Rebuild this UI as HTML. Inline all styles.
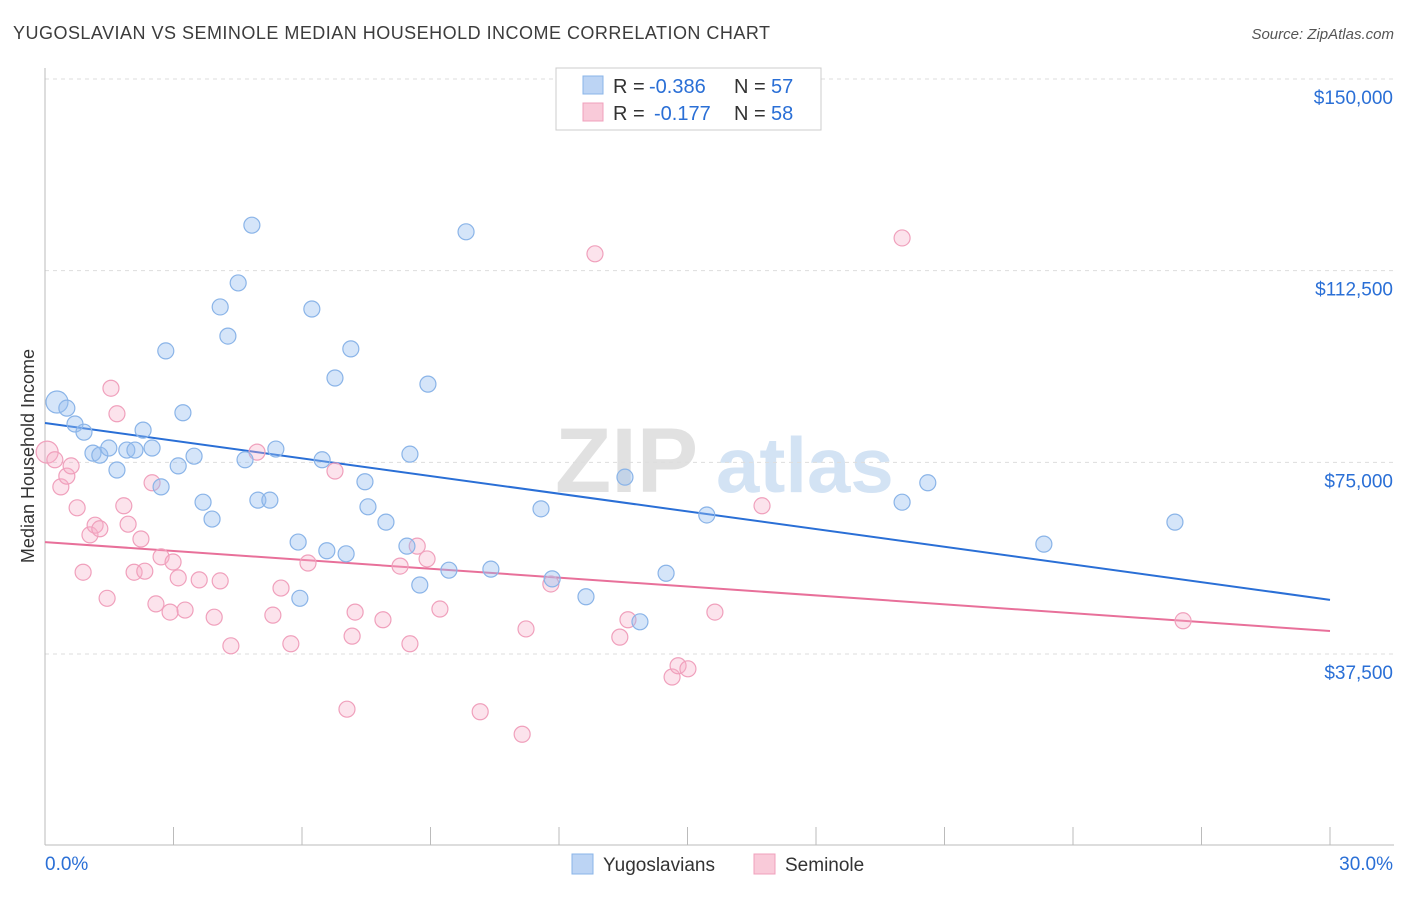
<!DOCTYPE html>
<html><head><meta charset="utf-8">
<style>
body{margin:0;background:#fff;font-family:"Liberation Sans",sans-serif;}
svg text{font-family:"Liberation Sans",sans-serif;}
</style></head>
<body>
<svg id="chart" width="1406" height="892" xmlns="http://www.w3.org/2000/svg">
<text x="13" y="39" font-size="18" fill="#3c3c3c" textLength="757">YUGOSLAVIAN VS SEMINOLE MEDIAN HOUSEHOLD INCOME CORRELATION CHART</text>
<text x="1394" y="39" font-size="15" fill="#555" font-style="italic" text-anchor="end">Source: ZipAtlas.com</text>
<text transform="translate(34,456) rotate(-90)" font-size="18" fill="#333" text-anchor="middle">Median Household Income</text>
<g opacity="0.9">
<text x="555" y="492" font-size="92" fill="#dedede" font-family="Liberation Serif" font-weight="bold">ZIP</text>
<text x="716" y="492" font-size="78" fill="#cfe0f3" font-weight="bold">atlas</text>
</g>
<g id="grid"></g><g id="axes"></g><g id="trends"></g><g id="points"></g>
<g>
<rect x="556" y="68" width="265" height="62" fill="#fff" stroke="#ccc"/>
<rect x="583" y="76" width="20" height="18" fill="#bcd4f4" stroke="#8ab4e8"/>
<text x="613" y="93" font-size="20" fill="#333">R =</text>
<text x="649" y="93" font-size="20" fill="#2a6fd6">-0.386</text>
<text x="734" y="93" font-size="20" fill="#333">N =</text>
<text x="771" y="93" font-size="20" fill="#2a6fd6">57</text>
<rect x="583" y="103" width="20" height="18" fill="#f9cad9" stroke="#f0a0bc"/>
<text x="613" y="120" font-size="20" fill="#333">R =</text>
<text x="654" y="120" font-size="20" fill="#2a6fd6">-0.177</text>
<text x="734" y="120" font-size="20" fill="#333">N =</text>
<text x="771" y="120" font-size="20" fill="#2a6fd6">58</text>
</g>
<g>
<rect x="572" y="854" width="21" height="20" fill="#bcd4f4" stroke="#8ab4e8"/>
<text x="603" y="871" font-size="19" fill="#333">Yugoslavians</text>
<rect x="754" y="854" width="21" height="20" fill="#f9cad9" stroke="#f0a0bc"/>
<text x="785" y="871" font-size="19" fill="#333">Seminole</text>
</g>
</svg>
<script>
const yTicks=[37500,75000,112500,150000];
const yTickLabels=["$37,500","$75,000","$112,500","$150,000"];
const xTickLabels=["0.0%","30.0%"];
const blueX=[0.28,0.51,0.70,0.91,1.12,1.28,1.49,1.68,1.91,2.10,2.29,2.50,2.71,2.82,3.11,3.22,3.48,3.69,3.90,4.09,4.27,4.51,4.67,4.83,4.97,5.25,5.39,5.91,5.95,6.23,6.47,6.58,6.77,7.03,7.14,7.47,7.54,7.96,8.45,8.52,8.75,8.94,9.43,9.83,10.41,11.58,11.84,12.63,13.54,13.89,14.50,15.45,20.01,20.61,23.32,26.38];
const blueY=[86800,85600,82500,80900,76800,76400,77800,73500,77400,77400,81300,77800,70200,96800,74300,84700,76200,67200,63900,105400,99700,110100,75500,121400,67600,67600,77600,59400,48400,105000,75500,57700,91500,57100,97200,71200,66300,63300,58600,76600,51000,90300,53900,120100,54100,65900,52200,48700,72100,43800,53300,64700,67200,71000,59000,63300];
const pinkX=[0.05,0.23,0.37,0.51,0.61,0.75,0.89,1.05,1.17,1.28,1.45,1.54,1.68,1.84,1.94,2.08,2.24,2.33,2.50,2.59,2.71,2.92,2.99,3.11,3.27,3.60,3.95,4.09,4.34,4.95,5.32,5.51,5.74,6.14,6.77,7.05,7.17,7.24,7.89,8.29,8.52,8.69,8.92,9.22,10.16,11.14,11.23,11.81,12.84,13.42,13.61,14.64,14.78,15.01,15.64,16.74,20.01,26.57];
const pinkY=[77000,75500,70200,72300,74300,66100,53500,60800,62700,62000,48400,89500,84500,66500,62900,53500,60000,53700,71000,47300,56500,45700,55500,52400,46100,52000,44700,51800,39100,77000,45100,50400,39500,55300,73300,26700,41000,45700,44200,54700,39500,58600,56100,46300,26200,21800,42400,51200,115800,40800,44200,33000,35200,34600,45700,66500,118900,44000];
const blueTrend=[82700,48100];
const pinkTrend=[59400,42000];
const trendX=[0,30];

const NS="http://www.w3.org/2000/svg";
const X=v=>45+v/30*1285;
const Y=v=>654-(v-37500)*575/112500;
function mk(tag,attrs,parent){const e=document.createElementNS(NS,tag);for(const k in attrs)e.setAttribute(k,attrs[k]);document.getElementById(parent).appendChild(e);return e;}
yTicks.forEach((t,i)=>{
  const l=mk('line',{x1:45,x2:1394,y1:Y(t),y2:Y(t),stroke:'#ddd','stroke-dasharray':'4,4'},'grid');
  
  
  const tx=mk('text',{x:1393,y:Y(t)+25,'font-size':19,fill:'#2a6fd6','text-anchor':'end'},'grid');
  tx.textContent=yTickLabels[i];
  
  
});
const ax=mk('line',{x1:45,x2:1394,y1:845,y2:845,stroke:'#bbb'},'axes');


const ay=mk('line',{x1:45,x2:45,y1:68,y2:845,stroke:'#bbb'},'axes');


for(let i=0;i<=10;i++){
  const t=mk('line',{x1:X(i*3),x2:X(i*3),y1:827,y2:845,stroke:'#bbb'},'axes');
  
  
}
[[0,'start',45],[30,'end',1393]].forEach((d,i)=>{
  const t=mk('text',{x:d[2],y:870,'font-size':19,fill:'#2a6fd6','text-anchor':d[1]},'axes');
  t.textContent=xTickLabels[i];
  
  
});
function dots(xs,ys,fill,stroke,name){
  xs.forEach((x,i)=>{
    const c=mk('circle',{cx:X(x),cy:Y(ys[i]),r:i===0?11:8,fill:fill,stroke:stroke,'stroke-width':1.2},'points');
    
    
  });
}
dots(pinkX,pinkY,'rgba(246,176,200,0.35)','#f0a0bc','seminole-point');
dots(blueX,blueY,'rgba(150,190,240,0.4)','#8ab4e8','yugoslavian-point');
const bt=mk('line',{x1:X(trendX[0]),x2:X(trendX[1]),y1:Y(blueTrend[0]),y2:Y(blueTrend[1]),stroke:'#2a6fd6','stroke-width':2},'trends');


const pt=mk('line',{x1:X(trendX[0]),x2:X(trendX[1]),y1:Y(pinkTrend[0]),y2:Y(pinkTrend[1]),stroke:'#e8709a','stroke-width':2},'trends');


</script>
</body></html>
